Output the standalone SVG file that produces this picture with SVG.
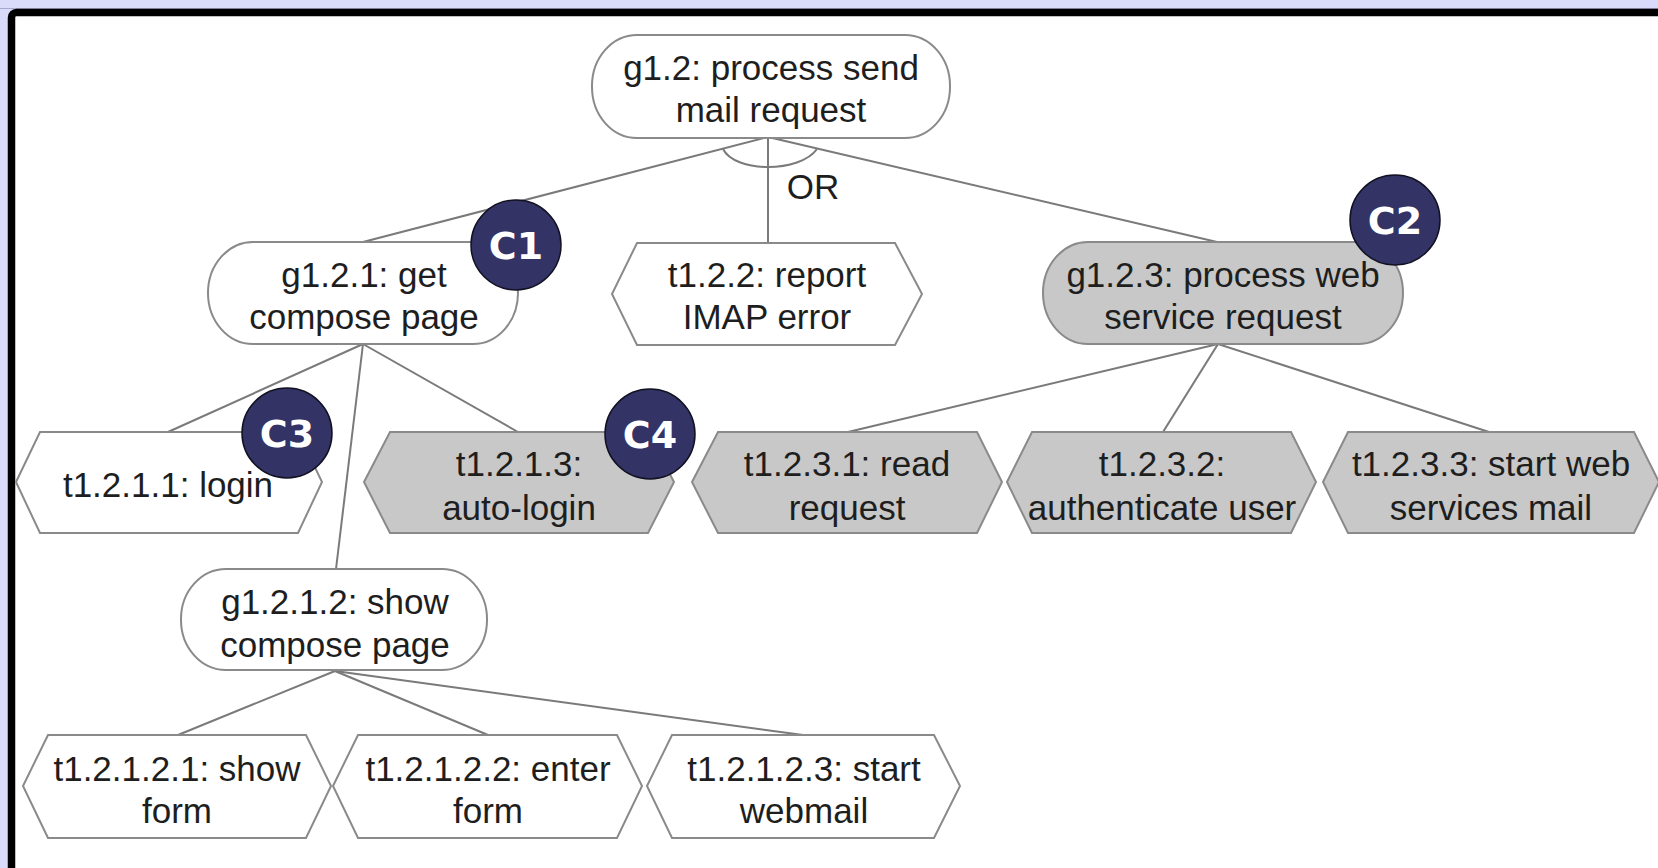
<svg xmlns="http://www.w3.org/2000/svg" width="1658" height="868" viewBox="0 0 1658 868">
  <defs>
    <style>
      .goal { fill: #ffffff; stroke: #8a8a8a; stroke-width: 2; }
      .goal.shaded, .task.shaded { fill: #c8c8c8; }
      .task { fill: #ffffff; stroke: #8a8a8a; stroke-width: 2; }
      .lbl { font-family: "Liberation Sans", "DejaVu Sans", sans-serif; font-size: 35px; fill: #1e1e1e; text-anchor: middle; }
      .edge { stroke: #7a7a7a; stroke-width: 2; fill: none; }
      .badge circle { fill: #333366; stroke: #111122; stroke-width: 1.5; }
      .badge text { font-family: "DejaVu Sans", "Liberation Sans", sans-serif; font-weight: bold; font-size: 38px; fill: #ffffff; text-anchor: middle; }
    </style>
  </defs>

  <!-- page background and frame -->
  <rect x="0" y="0" width="1658" height="868" fill="#dadafa"/>
  <line x1="0" y1="8.5" x2="1658" y2="8.5" stroke="#a8a8cc" stroke-width="1"/>
  <rect x="11.5" y="12.5" width="1700" height="900" rx="5" fill="#ffffff" stroke="#000000" stroke-width="7.5"/>

  <!-- connectors -->
  <g id="connectors">
    <line class="edge" x1="768" y1="137" x2="363" y2="242"/>
    <line class="edge" x1="768" y1="137" x2="768" y2="243"/>
    <line class="edge" x1="768" y1="137" x2="1217" y2="242"/>
    <path class="edge" d="M723,149 C735,173 800,173 817,149"/>
    <text class="lbl" x="813" y="199">OR</text>

    <line class="edge" x1="363" y1="344" x2="168" y2="432"/>
    <line class="edge" x1="363" y1="344" x2="518" y2="432"/>
    <line class="edge" x1="363" y1="344" x2="336" y2="569"/>

    <line class="edge" x1="1218" y1="344" x2="848" y2="432"/>
    <line class="edge" x1="1218" y1="344" x2="1163" y2="432"/>
    <line class="edge" x1="1218" y1="344" x2="1489" y2="432"/>

    <line class="edge" x1="335" y1="671" x2="178" y2="735"/>
    <line class="edge" x1="335" y1="671" x2="488" y2="735"/>
    <line class="edge" x1="335" y1="671" x2="803" y2="735"/>
  </g>

  <!-- goals -->
  <g id="g1.2">
    <rect class="goal" x="592" y="35" width="358" height="103" rx="45" ry="51"/>
    <text class="lbl" x="771" y="80">g1.2: process send</text>
    <text class="lbl" x="771" y="122">mail request</text>
  </g>

  <g id="g1.2.1">
    <rect class="goal" x="208" y="242" width="310" height="102" rx="45" ry="51"/>
    <text class="lbl" x="364" y="287">g1.2.1: get</text>
    <text class="lbl" x="364" y="329">compose page</text>
  </g>

  <g id="t1.2.2">
    <polygon class="task" points="612,294 637,243 895,243 922,294 895,345 637,345"/>
    <text class="lbl" x="767" y="287">t1.2.2: report</text>
    <text class="lbl" x="767" y="329">IMAP error</text>
  </g>

  <g id="g1.2.3">
    <rect class="goal shaded" x="1043" y="242" width="360" height="102" rx="45" ry="51"/>
    <text class="lbl" x="1223" y="287">g1.2.3: process web</text>
    <text class="lbl" x="1223" y="329">service request</text>
  </g>

  <!-- tasks under g1.2.1 -->
  <g id="t1.2.1.1">
    <polygon class="task" points="16,482 40,432 298,432 322,482 298,533 40,533"/>
    <text class="lbl" x="168" y="497">t1.2.1.1: login</text>
  </g>

  <g id="t1.2.1.3">
    <polygon class="task shaded" points="364,482 390,432 648,432 674,482 648,533 390,533"/>
    <text class="lbl" x="519" y="476">t1.2.1.3:</text>
    <text class="lbl" x="519" y="520">auto-login</text>
  </g>

  <g id="g1.2.1.2">
    <rect class="goal" x="181" y="569" width="306" height="101" rx="45" ry="50"/>
    <text class="lbl" x="335" y="614">g1.2.1.2: show</text>
    <text class="lbl" x="335" y="657">compose page</text>
  </g>

  <!-- tasks under g1.2.3 -->
  <g id="t1.2.3.1">
    <polygon class="task shaded" points="692,482 718,432 977,432 1002,482 977,533 718,533"/>
    <text class="lbl" x="847" y="476">t1.2.3.1: read</text>
    <text class="lbl" x="847" y="520">request</text>
  </g>

  <g id="t1.2.3.2">
    <polygon class="task shaded" points="1007,482 1032,432 1291,432 1316,482 1291,533 1032,533"/>
    <text class="lbl" x="1162" y="476">t1.2.3.2:</text>
    <text class="lbl" x="1162" y="520">authenticate user</text>
  </g>

  <g id="t1.2.3.3">
    <polygon class="task shaded" points="1323,482 1348,432 1634,432 1659,482 1634,533 1348,533"/>
    <text class="lbl" x="1491" y="476">t1.2.3.3: start web</text>
    <text class="lbl" x="1491" y="520">services mail</text>
  </g>

  <!-- tasks under g1.2.1.2 -->
  <g id="t1.2.1.2.1">
    <polygon class="task" points="23,786 48,735 306,735 331,786 306,838 48,838"/>
    <text class="lbl" x="177" y="781">t1.2.1.2.1: show</text>
    <text class="lbl" x="177" y="823">form</text>
  </g>

  <g id="t1.2.1.2.2">
    <polygon class="task" points="333,786 358,735 617,735 642,786 617,838 358,838"/>
    <text class="lbl" x="488" y="781">t1.2.1.2.2: enter</text>
    <text class="lbl" x="488" y="823">form</text>
  </g>

  <g id="t1.2.1.2.3">
    <polygon class="task" points="647,786 672,735 934,735 960,786 934,838 672,838"/>
    <text class="lbl" x="804" y="781">t1.2.1.2.3: start</text>
    <text class="lbl" x="804" y="823">webmail</text>
  </g>

  <!-- concern badges -->
  <g id="C1" class="badge">
    <circle cx="516" cy="245" r="45"/>
    <text x="516" y="259">C1</text>
  </g>
  <g id="C2" class="badge">
    <circle cx="1395" cy="220" r="45"/>
    <text x="1395" y="234">C2</text>
  </g>
  <g id="C3" class="badge">
    <circle cx="287" cy="433" r="45"/>
    <text x="287" y="447">C3</text>
  </g>
  <g id="C4" class="badge">
    <circle cx="650" cy="434" r="45"/>
    <text x="650" y="448">C4</text>
  </g>
</svg>
